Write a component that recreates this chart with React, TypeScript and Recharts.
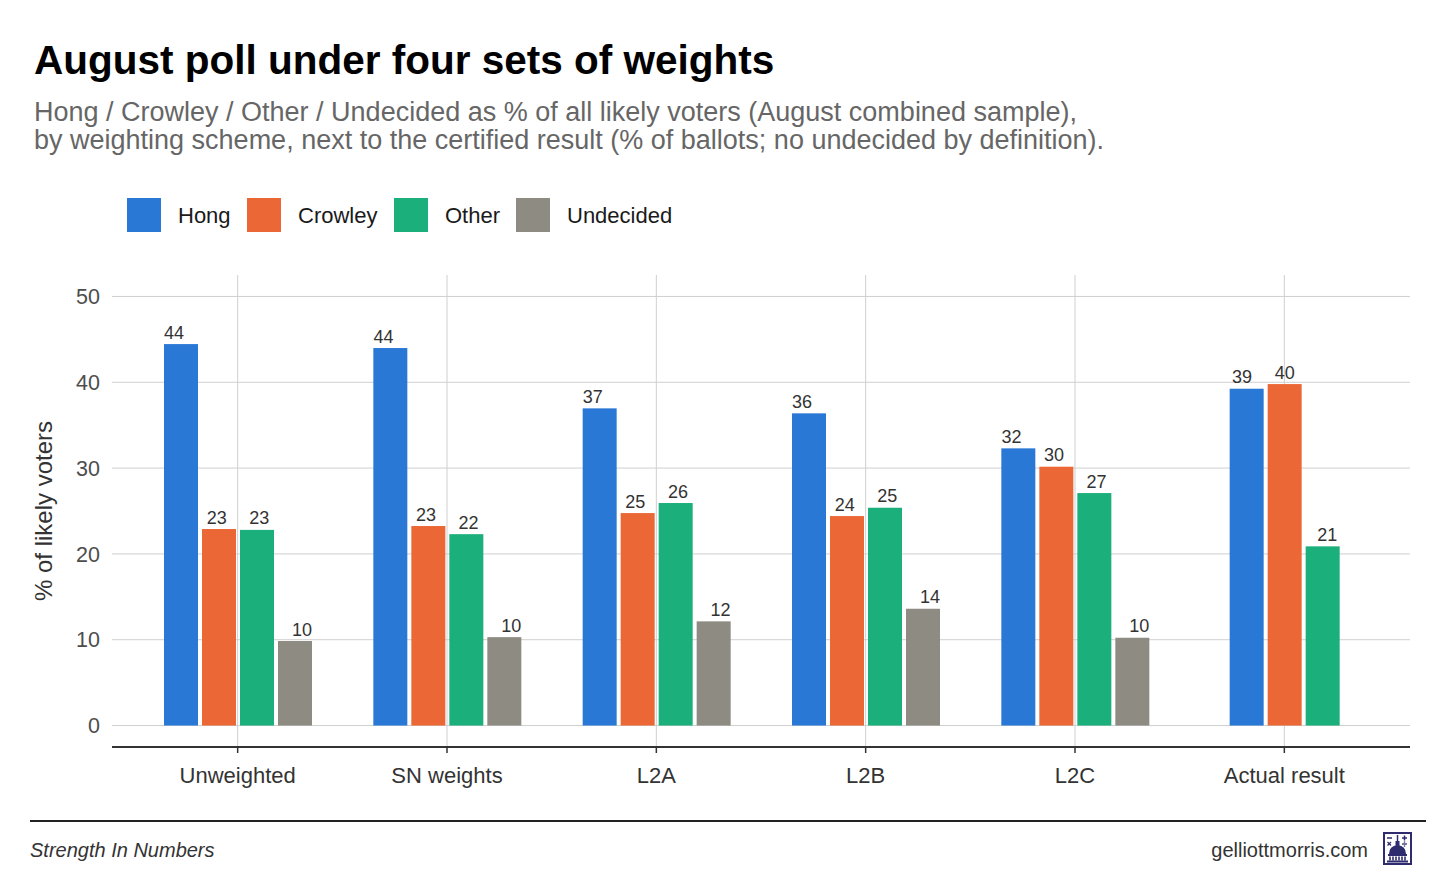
import React from 'react';
import { BarChart, Bar, XAxis, YAxis, CartesianGrid } from 'recharts';

const categories = ['Unweighted', 'SN weights', 'L2A', 'L2B', 'L2C', 'Actual result'];
const hong = [44.45, 43.99, 36.96, 36.38, 32.3, 39.25];
const crowley = [22.9, 23.25, 24.76, 24.41, 30.16, 39.79];
const other = [22.8, 22.3, 25.93, 25.38, 27.09, 20.88];
const undecided: (number | null)[] = [9.85, 10.3, 12.14, 13.61, 10.23, null];

const yTicks = [0, 10, 20, 30, 40, 50];
const yMinorTicks = [5, 15, 25, 35, 45];

const SERIES = [
  { key: 'Hong', color: '#2A78D6' },
  { key: 'Crowley', color: '#EB6836' },
  { key: 'Other', color: '#1BAF7B' },
  { key: 'Undecided', color: '#8E8B83' },
];

const rows = categories.map((category, i) => ({
  category,
  Hong: hong[i],
  Crowley: crowley[i],
  Other: other[i],
  Undecided: undecided[i],
}));

const BAR_GAP = 4;
const LABEL_SPREAD = 4.6;
const FONT = '"Liberation Sans", Arial, Helvetica, sans-serif';

function makeShape(seriesIndex: number, color: string) {
  return (props: any) => {
    const { x, y, width, height, payload } = props;
    const key = SERIES[seriesIndex].key;
    const v = payload[key];
    if (v == null || !height) return null;
    const present = SERIES.filter((s) => payload[s.key] != null).length;
    const shift = ((SERIES.length - present) * (width + BAR_GAP)) / 2;
    const cx = x + shift + width / 2 + (seriesIndex - (present - 1) / 2) * LABEL_SPREAD;
    return (
      <g>
        <rect x={x + shift} y={y} width={width} height={height} fill={color} />
        <text x={cx} y={y - 5.5} textAnchor="middle" fontSize={18} fill="#333333" fontFamily={FONT}>
          {Math.round(v)}
        </text>
      </g>
    );
  };
}

const legendPos = [127, 247, 394, 516];

function Icon() {
  const c = '#2E2C6E';
  return (
    <svg x={1383} y={832} width={29} height={33} viewBox="0 0 29 33">
      <rect x={1} y={1} width={27} height={31} fill="#fff" stroke={c} strokeWidth={2} />
      <line x1={4} y1={6} x2={9} y2={6} stroke={c} strokeWidth={1.5} />
      <line x1={19} y1={6} x2={24} y2={6} stroke={c} strokeWidth={1.5} />
      <line x1={21.5} y1={3.5} x2={21.5} y2={8.5} stroke={c} strokeWidth={1.5} />
      <line x1={4.5} y1={10} x2={8} y2={13.5} stroke={c} strokeWidth={1.3} />
      <line x1={8} y1={10} x2={4.5} y2={13.5} stroke={c} strokeWidth={1.3} />
      <line x1={19} y1={12} x2={24} y2={12} stroke={c} strokeWidth={1.3} />
      <circle cx={21.5} cy={10} r={0.8} fill={c} />
      <circle cx={21.5} cy={14} r={0.8} fill={c} />
      <line x1={14.5} y1={3} x2={14.5} y2={9} stroke={c} strokeWidth={1.5} />
      <rect x={12.5} y={9} width={4} height={5} fill={c} />
      <path d="M6 22 Q6 14 14.5 13 Q23 14 23 22 Z" fill={c} />
      <rect x={5} y={22} width={19} height={2} fill={c} />
      {[7, 10, 13, 16, 19, 22].map((px) => (
        <rect key={px} x={px - 0.8} y={24.5} width={1.6} height={4} fill={c} />
      ))}
      <rect x={4} y={28.5} width={21} height={2} fill={c} />
    </svg>
  );
}

export default function App() {
  return (
    <div
      style={{
        position: 'absolute',
        left: 0,
        top: 0,
        width: 1456,
        height: 874,
        background: '#ffffff',
        fontFamily: FONT,
        overflow: 'hidden',
      }}
    >
      <div style={{ position: 'absolute', left: 0, top: 0 }}>
        <BarChart
          width={1456}
          height={874}
          data={rows}
          margin={{ top: 275, right: 46, bottom: 87, left: 52 }}
          barSize={34}
          barGap={BAR_GAP}
        >
          <CartesianGrid yAxisId="minor" vertical={false} syncWithTicks stroke="#ebebeb" strokeWidth={1} />
          <CartesianGrid syncWithTicks stroke="#cfcfcf" strokeWidth={1} />
          <XAxis
            dataKey="category"
            padding={{ left: 21, right: 21 }}
            height={40}
            interval={0}
            tickSize={6}
            tickMargin={14}
            tick={{ fontSize: 22, fill: '#333333', fontFamily: FONT }}
            axisLine={{ stroke: '#333333', strokeWidth: 2 }}
            tickLine={{ stroke: '#333333', strokeWidth: 1.5 }}
          />
          <YAxis
            domain={[-2.5, 52.5]}
            ticks={yTicks}
            width={60}
            axisLine={false}
            tickLine={false}
            tickSize={0}
            tickMargin={12}
            tick={{ fontSize: 21.5, fill: '#4d4d4d', fontFamily: FONT }}
          />
          <YAxis yAxisId="minor" domain={[-2.5, 52.5]} ticks={yMinorTicks} hide />
          {SERIES.map((s, i) => (
            <Bar
              key={s.key}
              dataKey={s.key}
              name={s.key}
              fill={s.color}
              isAnimationActive={false}
              shape={makeShape(i, s.color)}
            />
          ))}
        </BarChart>
      </div>
      <svg
        width={1456}
        height={874}
        style={{ position: 'absolute', left: 0, top: 0, pointerEvents: 'none' }}
        fontFamily={FONT}
      >
        <text x={34} y={74} fontSize={40.5} fontWeight="bold" fill="#000000">
          August poll under four sets of weights
        </text>
        <text x={34} y={121} fontSize={27} fill="#666666">
          Hong / Crowley / Other / Undecided as % of all likely voters (August combined sample),
        </text>
        <text x={34} y={149} fontSize={27} fill="#666666">
          by weighting scheme, next to the certified result (% of ballots; no undecided by definition).
        </text>
        {SERIES.map((s, i) => (
          <g key={s.key}>
            <rect x={legendPos[i]} y={198} width={34} height={34} fill={s.color} />
            <text x={legendPos[i] + 51} y={223} fontSize={22} fill="#1a1a1a">
              {s.key}
            </text>
          </g>
        ))}
        <text
          transform="translate(43,511) rotate(-90)"
          textAnchor="middle"
          dominantBaseline="central"
          fontSize={24}
          fill="#333333"
        >
          % of likely voters
        </text>
        <rect x={30} y={820} width={1396} height={2} fill="#222222" />
        <text x={30} y={857} fontSize={20} fontStyle="italic" fill="#333333">
          Strength In Numbers
        </text>
        <text x={1368} y={857} fontSize={20} textAnchor="end" fill="#333333">
          gelliottmorris.com
        </text>
        <Icon />
      </svg>
    </div>
  );
}
